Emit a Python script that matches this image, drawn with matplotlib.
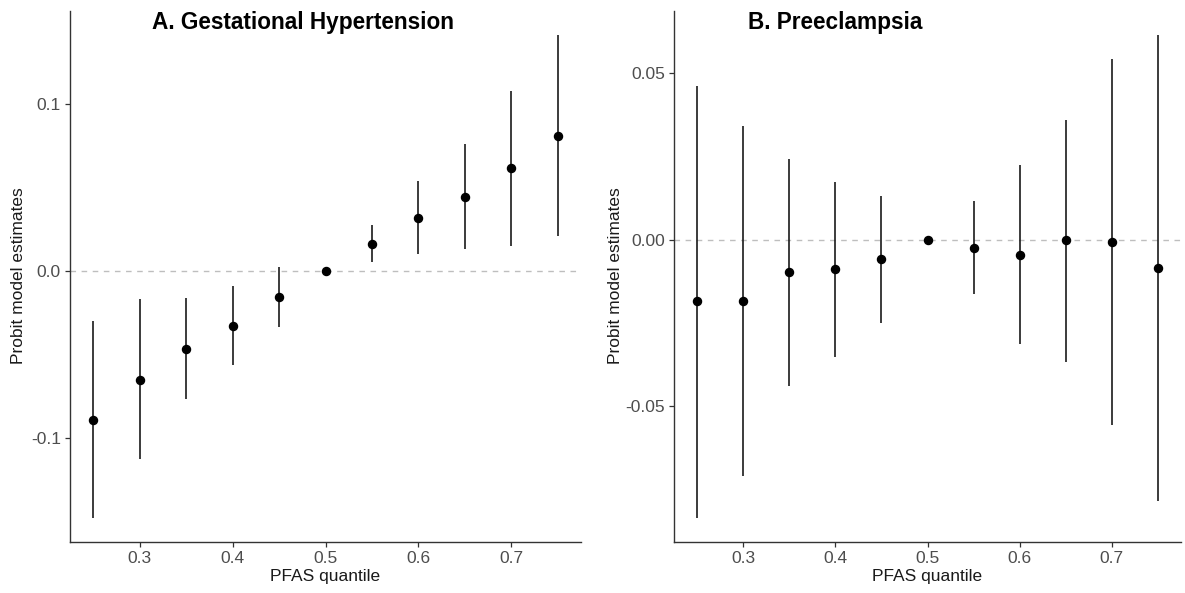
import matplotlib
matplotlib.use("Agg")
import matplotlib.pyplot as plt

quantiles = [0.25, 0.30, 0.35, 0.40, 0.45, 0.50, 0.55, 0.60, 0.65, 0.70, 0.75]

gh_est = [-0.0891, -0.0650, -0.0464, -0.0327, -0.0155, 0.0, 0.0159, 0.0316, 0.0445, 0.0616, 0.0809]
gh_lo  = [-0.1477, -0.1123, -0.0764, -0.0564, -0.0334, 0.0, 0.0052, 0.0100, 0.0132, 0.0152, 0.0209]
gh_hi  = [-0.0300, -0.0168, -0.0161, -0.0091, 0.0025, 0.0, 0.0273, 0.0536, 0.0757, 0.1075, 0.1411]

pe_est = [-0.0185, -0.0185, -0.0096, -0.0089, -0.0059, 0.0, -0.0024, -0.0046, -0.0002, -0.0006, -0.0084]
pe_lo  = [-0.0836, -0.0710, -0.0441, -0.0352, -0.0250, 0.0, -0.0164, -0.0312, -0.0366, -0.0556, -0.0785]
pe_hi  = [0.0463, 0.0342, 0.0244, 0.0174, 0.0130, 0.0, 0.0116, 0.0224, 0.0361, 0.0543, 0.0615]

titles = ["A. Gestational Hypertension", "B. Preeclampsia"]
xlabel = "PFAS quantile"
ylabel = "Probit model estimates"
xticks = [0.3, 0.4, 0.5, 0.6, 0.7]
yticks_a = [-0.1, 0.0, 0.1]
yticks_a_labels = ["-0.1", "0.0", "0.1"]
yticks_b = [-0.05, 0.0, 0.05]
yticks_b_labels = ["-0.05", "0.00", "0.05"]

plt.rcParams['font.family'] = ['Liberation Sans', 'DejaVu Sans']

W, H = 1185, 593
fig = plt.figure(figsize=(W / 100, H / 100), dpi=100)

def add_ax(x0, x1, y0, y1):
    return fig.add_axes([x0 / W, 1 - y1 / H, (x1 - x0) / W, (y1 - y0) / H])

axA = add_ax(70, 581, 11, 542)
axB = add_ax(674, 1181, 11, 542)

def style(ax, est, lo, hi, yt, ytl, title, tx, ylx):
    ax.axhline(0, color='#BEBEBE', lw=1.0, ls=(0, (4, 4)), zorder=1)
    for q, l, h in zip(quantiles, lo, hi):
        ax.vlines(q, l, h, color='#1a1a1a', lw=1.2, zorder=2)
    ax.plot(quantiles, est, 'o', color='black', ms=5.8, zorder=3)
    rng = max(hi) - min(lo)
    ax.set_ylim(min(lo) - 0.05 * rng, max(hi) + 0.05 * rng)
    ax.set_xlim(0.225, 0.775)
    ax.set_xticks(xticks)
    ax.set_xticklabels([f"{v:.1f}" for v in xticks])
    ax.set_yticks(yt)
    ax.set_yticklabels(ytl)
    for s in ['top', 'right']:
        ax.spines[s].set_visible(False)
    for s in ['left', 'bottom']:
        ax.spines[s].set_color('#333333')
        ax.spines[s].set_linewidth(1.0)
    ax.tick_params(axis='both', colors='#333333', length=3.5, width=0.9,
                   labelcolor='#4D4D4D', labelsize=12.5, pad=3)
    ax.set_xlabel(xlabel, fontsize=12.5, color='#1a1a1a', labelpad=2)
    fig.text(ylx / W, 1 - 276 / H, ylabel, rotation=90, fontsize=12.5,
             color='#1a1a1a', ha='center', va='center')
    fig.text(tx / W, 1 - 23 / H, title, fontsize=16.3, fontweight='bold',
             ha='left', va='center', color='black')

style(axA, gh_est, gh_lo, gh_hi, yticks_a, yticks_a_labels, titles[0], 152, 19)
style(axB, pe_est, pe_lo, pe_hi, yticks_b, yticks_b_labels, titles[1], 748, 616)

fig.savefig("out.png", dpi=100)
